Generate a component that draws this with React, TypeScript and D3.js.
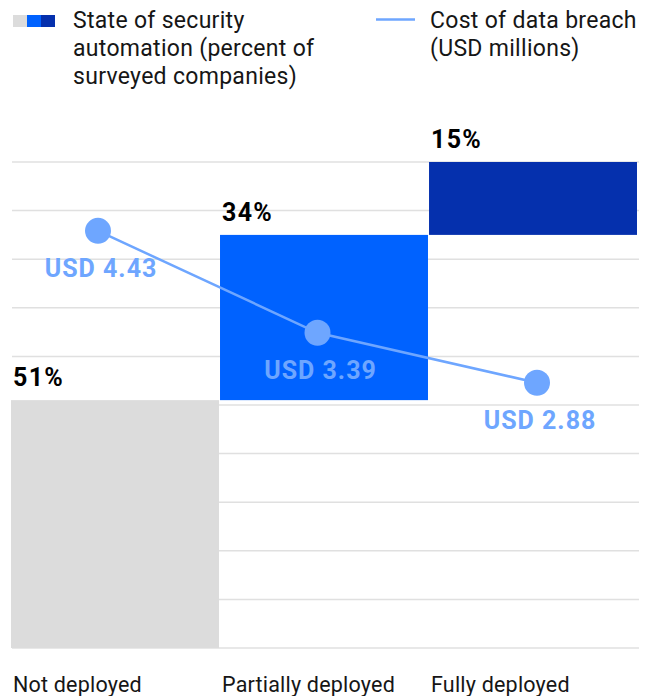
import React from 'react';
import * as d3 from 'd3';

// Automation deployment categories
const categories = ['Not deployed', 'Partially deployed', 'Fully deployed'];
// Share of surveyed companies (%)
const shares = [51, 34, 15];
// Cost of data breach (USD millions)
const costs = [4.43, 3.39, 2.88];
const barColors = ['#dcdcdc', '#0062ff', '#0530ad'];
const gridTicks = [0, 10, 20, 30, 40, 50, 60, 70, 80, 90, 100];
const legendBarLines = ['State of security', 'automation (percent of', 'surveyed companies)'];
const legendLineLines = ['Cost of data breach', '(USD millions)'];

const WIDTH = 651;
const HEIGHT = 696;
const LINE_COLOR = '#6ea6ff';
const TEXT = '#161616';
const FONT = 'Roboto, "Noto Sans", sans-serif';

export default function App() {
  const x = d3.scaleBand<string>().domain(categories).range([11, 637]).paddingInner(0.005);
  const y = d3.scaleLinear().domain([0, 100]).range([648, 162]);
  // second axis for the cost line (not drawn)
  const yCost = d3.scaleLinear().domain([0, 5]).range([665, 175]);
  const xLine = d3.scalePoint<string>().domain(categories).range([98, 537]);

  // stacked (waterfall) offsets
  const starts = shares.map((_, i) => d3.sum(shares.slice(0, i)));

  const points = categories.map((c, i) => ({ c, v: costs[i], x: xLine(c) as number, y: yCost(costs[i]) }));
  const line = d3.line<{ x: number; y: number }>().x(d => d.x).y(d => d.y);

  return (
    <svg
      width={WIDTH}
      height={HEIGHT}
      style={{ position: 'absolute', left: 0, top: 0, background: '#fff' }}
      fontFamily={FONT}
    >
      {/* legend */}
      <g>
        {barColors.map((col, i) => (
          <rect key={col} x={13 + i * 14} y={15} width={14} height={12} fill={col} />
        ))}
        <text x={73} y={28} fontSize={23} letterSpacing={0.3} fill={TEXT}>
          {legendBarLines.map((t, i) => (
            <tspan key={t} x={73} dy={i === 0 ? 0 : 28}>{t}</tspan>
          ))}
        </text>
        <line x1={376} x2={415} y1={19.5} y2={19.5} stroke={LINE_COLOR} strokeWidth={2.5} />
        <text x={430} y={28} fontSize={23} letterSpacing={0.3} fill={TEXT}>
          {legendLineLines.map((t, i) => (
            <tspan key={t} x={430} dy={i === 0 ? 0 : 28}>{t}</tspan>
          ))}
        </text>
      </g>

      {/* gridlines */}
      <g>
        {gridTicks.map(t => (
          <line key={t} x1={12} x2={639} y1={y(t)} y2={y(t)} stroke="#e0e0e0" strokeWidth={1.5} />
        ))}
      </g>

      {/* bars */}
      <g>
        {categories.map((c, i) => (
          <rect
            key={c}
            x={x(c)}
            y={y(starts[i] + shares[i])}
            width={x.bandwidth()}
            height={y(starts[i]) - y(starts[i] + shares[i])}
            fill={barColors[i]}
          />
        ))}
      </g>

      {/* percent labels */}
      <g>
        {categories.map((c, i) => (
          <text
            key={c}
            x={(x(c) as number) + 2}
            y={y(starts[i] + shares[i]) - 14}
            fontSize={25}
            fontWeight={700}
            letterSpacing={1.3}
            fill="#000"
          >
            {shares[i]}%
          </text>
        ))}
      </g>

      {/* cost line */}
      <path d={line(points) || ''} fill="none" stroke={LINE_COLOR} strokeWidth={2.5} />
      {points.map(p => (
        <circle key={p.c} cx={p.x} cy={p.y} r={13} fill={LINE_COLOR} />
      ))}
      {points.map(p => (
        <text
          key={p.c}
          x={p.x + 3}
          y={p.y + 46}
          textAnchor="middle"
          fontSize={25}
          fontWeight={700}
          letterSpacing={1}
          fill={LINE_COLOR}
        >
          USD {p.v.toFixed(2)}
        </text>
      ))}

      {/* category labels */}
      <g>
        {categories.map(c => (
          <text key={c} x={(x(c) as number) + 2} y={692} fontSize={21.5} letterSpacing={0.2} fill={TEXT}>
            {c}
          </text>
        ))}
      </g>
    </svg>
  );
}
